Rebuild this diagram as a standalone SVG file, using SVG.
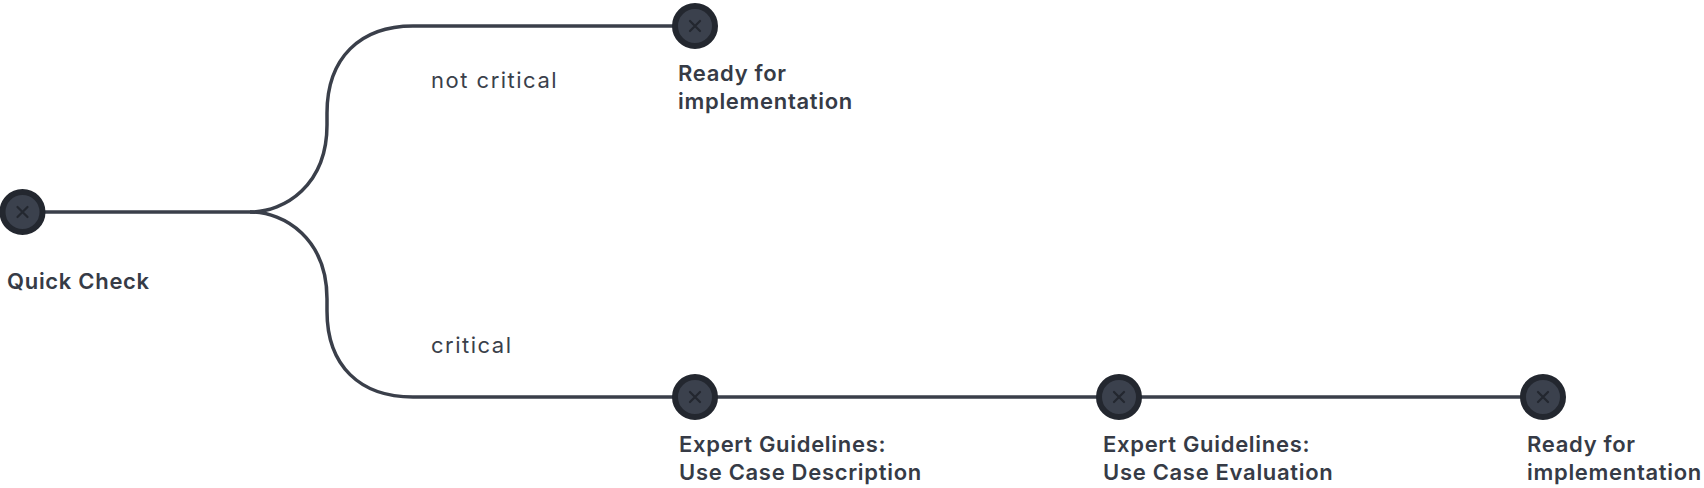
<svg xmlns="http://www.w3.org/2000/svg" width="1704" height="488" viewBox="0 0 1704 488">
<style>
.edge{fill:none;stroke:#3a3f4a;stroke-width:3.5;stroke-linecap:butt}
.ring{fill:#3b414d;stroke:#23272f;stroke-width:6}
.x{stroke:#23272f;stroke-width:2.2;stroke-linecap:round}
.t{font-family:Inter,"Noto Sans",sans-serif;font-weight:600;font-size:22px;fill:#363b46;letter-spacing:0.7px}
.lbl{font-family:Inter,"Noto Sans",sans-serif;font-weight:400;font-size:22px;fill:#3a3f4a;letter-spacing:1.5px}
</style>
<defs>
<g id="nd">
<circle r="20" class="ring"/>
<path d="M-5,-5L5,5M5,-5L-5,5" class="x"/>
</g>
</defs>
<g id="connectors">
<path class="edge" d="M22,212H250C285,212 327,185 327,125V113C327,58 360,26 413,26H695"/>
<path class="edge" d="M250,212C285,212 327,239 327,299V311C327,366 360,397 413,397H1543"/>
<text class="lbl" x="431" y="88">not critical</text>
<text class="lbl" x="431" y="353">critical</text>
</g>
<g id="n-quick">
<use href="#nd" x="22.5" y="212"/>
<text class="t" x="7" y="289">Quick Check</text>
</g>
<g id="n-ready1">
<use href="#nd" x="695" y="26"/>
<text class="t" x="678" y="81">Ready for</text>
<text class="t" x="678" y="109">implementation</text>
</g>
<g id="n-desc">
<use href="#nd" x="695" y="397"/>
<text class="t" x="679" y="452">Expert Guidelines:</text>
<text class="t" x="679" y="480">Use Case Description</text>
</g>
<g id="n-eval">
<use href="#nd" x="1119" y="397"/>
<text class="t" x="1103" y="452">Expert Guidelines:</text>
<text class="t" x="1103" y="480">Use Case Evaluation</text>
</g>
<g id="n-ready2">
<use href="#nd" x="1543" y="397"/>
<text class="t" x="1527" y="452">Ready for</text>
<text class="t" x="1527" y="480">implementation</text>
</g>
</svg>
